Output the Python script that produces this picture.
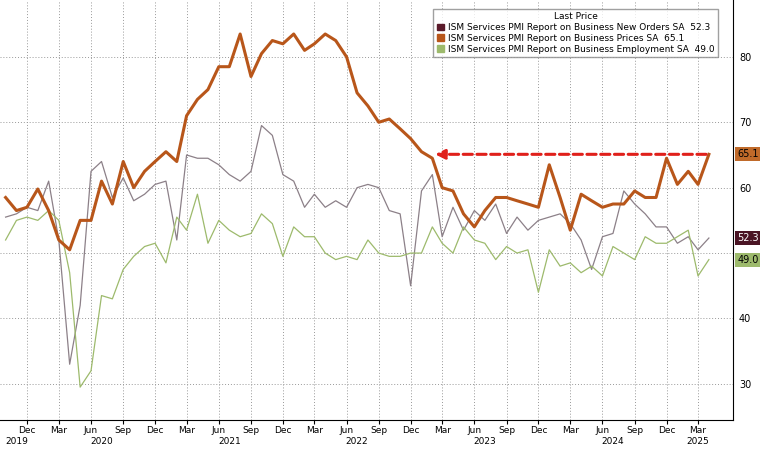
import numpy as np, pandas as pd, seaborn as sns, matplotlib
matplotlib.use("Agg")
import matplotlib.pyplot as plt
from matplotlib.patches import Patch

months = pd.date_range("2019-10-01", "2025-04-01", freq="MS")
prices = [58.5,56.5,57.0,59.8,56.5,52.0,50.5,55.0,55.0,61.0,57.5,64.0,60.0,62.5,64.0,65.5,64.0,71.0,73.5,75.0,
          78.5,78.5,83.5,77.0,80.5,82.5,82.0,83.5,81.0,82.0,83.5,82.5,80.0,74.5,72.5,70.0,70.5,69.0,67.5,65.5,
          64.5,60.0,59.5,56.0,54.0,56.5,58.5,58.5,58.0,57.5,57.0,63.5,58.5,53.5,59.0,58.0,57.0,57.5,57.5,59.5,
          58.5,58.5,64.5,60.5,62.5,60.5,65.1]
new_orders = [55.5,56,57,56.5,61,52,33,42,62.5,64,58.5,61.5,58,59,60.5,61,52,65,64.5,64.5,63.5,62,61,62.5,69.5,
              68,62,61,57,59,57,58,57,60,60.5,60,56.5,56,45,59.5,62,52.5,57,53.5,56.5,55,57.5,53,55.5,53.5,55,
              55.5,56,54.5,52,47.5,52.5,53,59.5,57.5,56,54,54,51.5,52.5,50.5,52.3]
employment = [52,55,55.5,55,56.5,55,47,29.5,32,43.5,43,47.5,49.5,51,51.5,48.5,55.5,53.5,59,51.5,55,53.5,52.5,53,
              56,54.5,49.5,54,52.5,52.5,50,49,49.5,49,52,50,49.5,49.5,50,50,54,51.5,50,54,52,51.5,49,51,50,50.5,
              44,50.5,48,48.5,47,48,46.5,51,50,49,52.5,51.5,51.5,52.5,53.5,46.5,49.0]
names = ["ISM Services PMI Report on Business New Orders SA",
         "ISM Services PMI Report on Business Prices SA",
         "ISM Services PMI Report on Business Employment SA"]
last = ["52.3", "65.1", "49.0"]

df = pd.DataFrame({"date": months, "New Orders": new_orders, "Prices": prices, "Employment": employment})

fig = plt.figure(figsize=(7.6, 4.49), dpi=100)
ax = fig.add_axes([0.0, 0.065, 0.965, 0.935])
sns.lineplot(data=df, x="date", y="New Orders", ax=ax, color="#8c8088", lw=0.9)
sns.lineplot(data=df, x="date", y="Employment", ax=ax, color="#9dba6c", lw=0.9)
sns.lineplot(data=df, x="date", y="Prices", ax=ax, color="#b8561a", lw=2.2)

ax.set_xlim(pd.Timestamp("2019-09-15"), pd.Timestamp("2025-06-10"))
ax.set_ylim(24.5, 88.7)
ax.yaxis.tick_right()
ax.set_yticks([30, 40, 50, 60, 70, 80])
ax.set_yticklabels(["30", "40", "", "60", "70", "80"])
ax.tick_params(axis="y", labelsize=7, length=0, pad=4)
ax.set_xlabel(""); ax.set_ylabel("")
ticks = [d for d in months if d.month in (3, 6, 9, 12)]
ax.set_xticks(ticks)
ax.set_xticklabels([d.strftime("%b") for d in ticks], fontsize=6.5)
ax.tick_params(axis="x", length=3, pad=1.5)
for y in range(2019, 2026):
    x = pd.Timestamp(f"{y}-07-01")
    if y == 2019: x = pd.Timestamp("2019-11-01")
    if y == 2025: x = pd.Timestamp("2025-03-01")
    ax.text(x, -0.04, str(y), transform=ax.get_xaxis_transform(), ha="center", va="top", fontsize=6.5)
ax.grid(True, linestyle=(0, (1, 2)), color="#999999", lw=0.7)
for s in ["top", "left"]:
    ax.spines[s].set_visible(False)

ax.annotate("", xy=(months[40], 65.1), xytext=(months[66], 65.1),
            arrowprops=dict(arrowstyle="-|>", color="#e0201b", lw=2.2, ls=(0, (3, 1.5)), mutation_scale=14))

for v, fc, tc in [(65.1, "#c06a2a", "black"), (52.3, "#4a1424", "white"), (49.0, "#9dba6c", "black")]:
    ax.text(1.005, v, f"{v:.1f}", transform=ax.get_yaxis_transform(), fontsize=7, color=tc, va="center", ha="left",
            bbox=dict(boxstyle="square,pad=0.2", fc=fc, ec="none"), clip_on=False)

handles = [Patch(color="#5a1a2a"), Patch(color="#b8561a"), Patch(color="#9dba6c")]
labels = [f"{n}  {l}" for n, l in zip(names, last)]
ax.legend(handles, labels, title="Last Price", loc="upper right", bbox_to_anchor=(0.985, 0.99),
          fontsize=6.5, title_fontsize=6.5, frameon=True, fancybox=False, edgecolor="#888888",
          handlelength=0.8, handleheight=0.8, borderpad=0.4, labelspacing=0.2, handletextpad=0.4)
fig.savefig("out.png", dpi=100)
